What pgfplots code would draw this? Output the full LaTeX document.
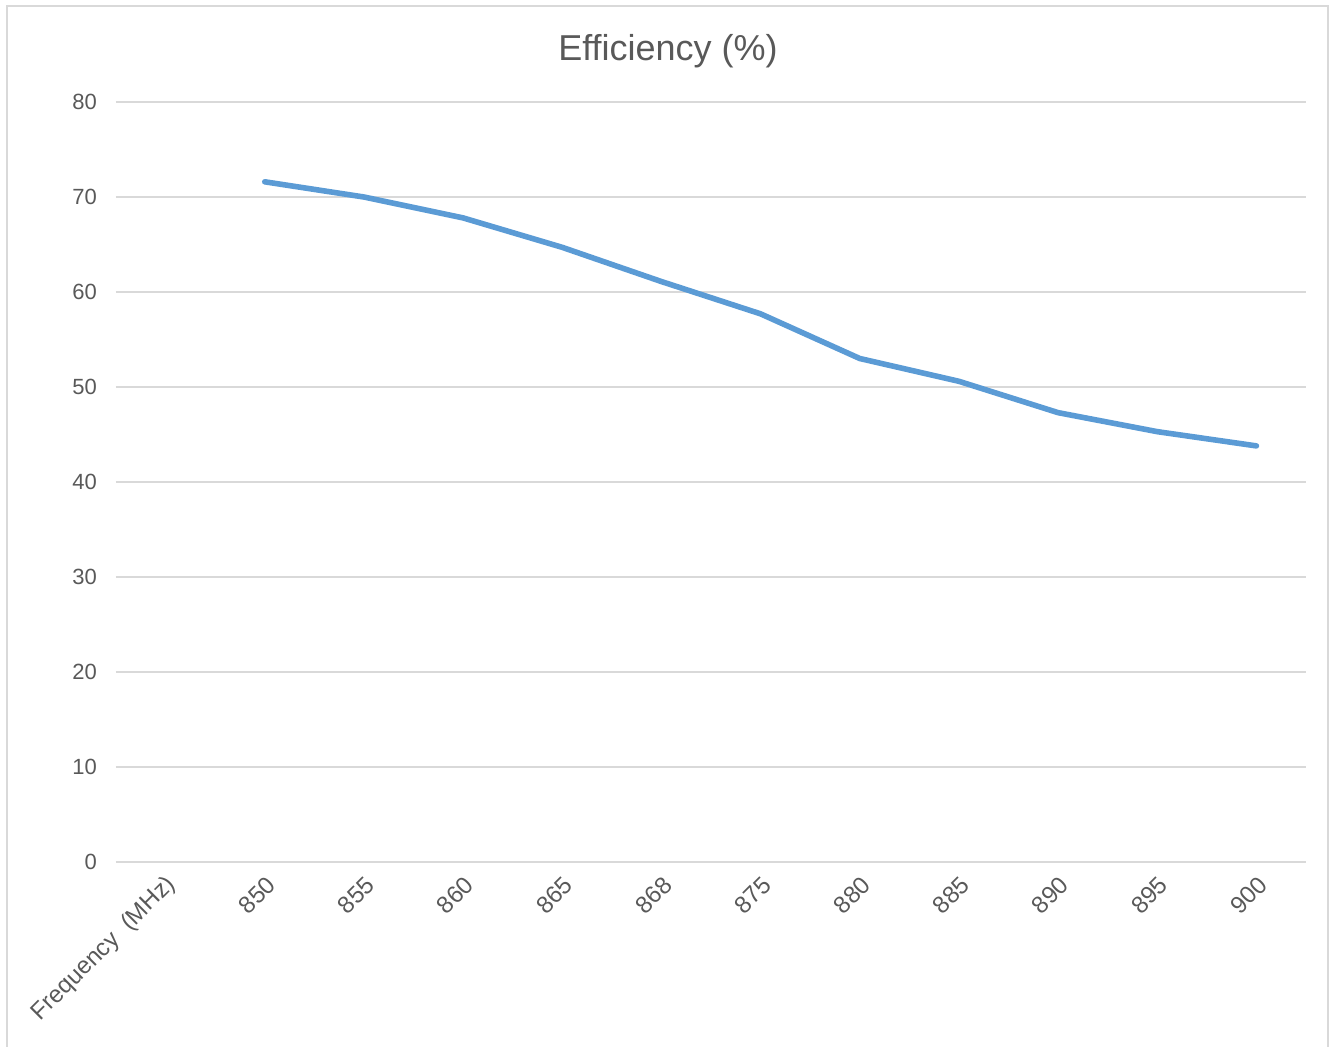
\documentclass[border=0pt]{standalone}
\usepackage{fontspec}
\setmainfont{Liberation Sans}
\usepackage{pgfplots}
\pgfplotsset{compat=1.18}
\definecolor{linecol}{HTML}{5B9BD5}
\definecolor{gridcol}{HTML}{D9D9D9}
\definecolor{txtcol}{HTML}{595959}
\begin{document}
\begin{tikzpicture}
% 1 px of the reference = 0.5pt; axis origin = bottom-left of plot area
\useasboundingbox (-58pt,-92.5pt) rectangle (610pt,431pt);
\draw[gridcol, line width=0.8pt] (-54.5pt,-92.5pt) -- (-54.5pt,428pt) -- (606pt,428pt) -- (606pt,-92.5pt);
\begin{axis}[
    at={(0pt,0pt)}, anchor=south west,
    scale only axis,
    width=595pt, height=380pt,
    xmin=-0.5, xmax=11.5,
    ymin=0, ymax=80,
    xtick={0,1,2,3,4,5,6,7,8,9,10,11},
    xticklabels={Frequency\ \ (MHz),850,855,860,865,868,875,880,885,890,895,900},
    ytick={0,10,20,30,40,50,60,70,80},
    axis line style={draw=none},
    major tick length=0pt,
    ymajorgrids=true,
    grid style={gridcol, line width=0.8pt},
    /pgf/number format/assume math mode=true,
    tick label style={font=\fontsize{11}{13}\selectfont, color=txtcol},
    xticklabel style={font=\fontsize{12}{14}\selectfont, rotate=45, anchor=east, yshift=-9pt, xshift=-1pt},
    yticklabel style={xshift=-6pt},
    clip=false,
]
\addplot[color=linecol, line width=2.8pt, line join=round, line cap=round]
    coordinates {(1,71.6)(2,70.0)(3,67.8)(4,64.7)(5,61.1)(6,57.7)(7,53.0)(8,50.6)(9,47.3)(10,45.3)(11,43.8)};
\end{axis}
\node[color=txtcol, font=\fontsize{18}{21}\selectfont] at (276pt,405.5pt) {Efficiency (\%)};
\end{tikzpicture}
\end{document}
